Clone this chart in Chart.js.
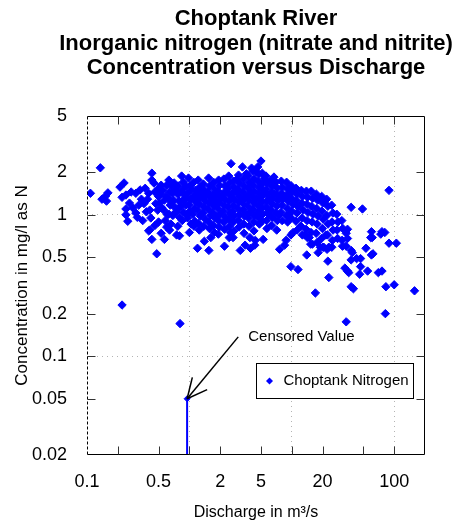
<!DOCTYPE html>
<html>
<head>
<meta charset="utf-8">
<title>Choptank River - Concentration versus Discharge</title>
<script src="https://cdn.jsdelivr.net/npm/chart.js@4.4.0/dist/chart.umd.min.js"></script>
<style>
  body { margin: 0; background: #fff; }
  #wrap { width: 461px; height: 524px; }
</style>
</head>
<body>
<div id="wrap"><canvas id="chart"></canvas></div>
<script>
const titleLines = ['Choptank River', 'Inorganic nitrogen (nitrate and nitrite)', 'Concentration versus Discharge'];
const xTitle = 'Discharge in m³/s';
const yTitle = 'Concentration in mg/l as N';
const seriesName = 'Choptank Nitrogen';
const noteText = 'Censored Value';

const xTicks = [0.1, 0.2, 0.5, 1, 2, 5, 10, 20, 50, 100];
const xTickLabels = ['0.1', '', '0.5', '', '2', '5', '', '20', '', '100'];
const yTicks = [0.02, 0.05, 0.1, 0.2, 0.5, 1, 2, 5];
const yTickLabels = ['0.02', '0.05', '0.1', '0.2', '0.5', '1', '2', '5'];
const xGridAt = [1, 10, 100];
const yGridAt = [0.1, 1];

// [discharge m3/s, concentration mg/l]
const lowFlow = [
  [0.108, 1.42], [0.135, 2.15], [0.14, 1.29], [0.155, 1.25], [0.16, 1.43], [0.152, 1.36],
  [0.21, 1.57], [0.23, 1.68], [0.22, 1.33], [0.24, 1.38], [0.26, 1.21], [0.24, 1.10], [0.24, 1.00], [0.25, 0.90],
  [0.30, 1.42], [0.32, 1.17], [0.34, 1.29], [0.31, 0.96], [0.30, 1.03], [0.35, 0.91],
  [0.37, 1.54], [0.43, 1.97], [0.43, 1.76], [0.45, 1.68], [0.40, 1.42], [0.39, 1.29], [0.41, 1.08], [0.42, 0.95],
  [0.41, 0.78], [0.40, 0.77], [0.43, 0.67], [0.48, 0.53],
  [0.50, 1.54], [0.50, 1.35], [0.51, 1.21], [0.49, 1.08], [0.50, 0.89],
  [0.53, 1.62], [0.55, 1.49], [0.57, 1.27], [0.56, 1.08], [0.58, 0.91], [0.60, 0.82], [0.57, 0.67], [0.60, 1.62],
  [0.63, 1.76], [0.64, 1.45], [0.62, 1.31], [0.65, 1.17], [0.63, 1.01], [0.64, 0.78],
  [0.71, 1.68], [0.68, 1.42], [0.70, 1.27], [0.72, 1.13], [0.69, 0.99], [0.66, 0.86], [0.75, 0.72],
  [0.78, 1.60], [0.77, 1.40], [0.79, 1.25], [0.78, 1.11], [0.80, 0.96], [0.77, 0.83], [0.80, 0.71],
  [0.87, 1.70], [0.89, 1.54], [0.84, 1.88], [0.90, 1.38], [0.86, 1.27], [0.92, 1.17], [0.88, 1.04], [0.85, 0.91],
  [0.27, 1.45], [0.28, 1.12], [0.33, 1.50], [0.36, 1.20], [0.38, 1.05], [0.46, 1.45], [0.47, 1.20],
  [0.52, 1.40], [0.54, 1.12], [0.59, 1.35], [0.61, 1.00], [0.67, 1.60], [0.67, 1.22], [0.73, 1.50],
  [0.74, 1.05], [0.82, 1.45], [0.83, 1.15], [0.93, 1.60], [0.94, 1.30], [0.95, 1.00], [0.46, 0.84], [0.53, 0.74]
];

const midFlow = [
  [0.98, 1.82], [1.02, 1.60], [0.97, 1.42], [1.03, 1.29], [0.99, 1.17], [1.01, 1.06], [0.96, 0.95], [1.04, 0.86], [1.00, 0.75],
  [1.10, 1.70], [1.14, 1.49], [1.09, 1.35], [1.15, 1.23], [1.12, 1.11], [1.08, 1.01], [1.13, 0.90], [1.11, 0.83],
  [1.22, 1.76], [1.26, 1.57], [1.21, 1.42], [1.27, 1.31], [1.24, 1.19], [1.20, 1.08], [1.28, 0.98], [1.23, 0.87], [1.25, 0.78], [1.20, 0.58],
  [1.37, 1.65], [1.41, 1.49], [1.36, 1.35], [1.42, 1.25], [1.39, 1.13], [1.35, 1.03], [1.43, 0.93], [1.38, 0.83], [1.40, 0.65],
  [1.54, 1.82], [1.58, 1.60], [1.53, 1.45], [1.59, 1.33], [1.56, 1.21], [1.52, 1.10], [1.60, 0.99], [1.55, 0.89], [1.57, 0.80], [1.62, 0.69], [1.55, 0.56],
  [1.72, 1.70], [1.76, 1.52], [1.70, 1.38], [1.78, 1.27], [1.74, 1.15], [1.69, 1.04], [1.77, 0.95], [1.73, 0.84], [1.75, 0.75],
  [1.93, 1.76], [1.97, 1.62], [1.91, 1.47], [1.99, 1.33], [1.95, 1.21], [1.90, 1.11], [1.98, 1.01], [1.94, 0.91], [1.96, 0.82], [1.92, 0.73],
  [2.17, 1.79], [2.22, 1.60], [2.15, 1.42], [2.24, 1.29], [2.19, 1.17], [2.14, 1.06], [2.23, 0.96], [2.18, 0.89], [2.21, 0.79], [2.20, 0.60],
  [2.42, 1.88], [2.47, 1.68], [2.40, 1.52], [2.50, 1.38], [2.44, 1.25], [2.39, 1.13], [2.48, 1.03], [2.43, 0.93], [2.46, 0.83], [2.52, 0.75], [2.45, 0.69],
  [2.55, 2.30],
  [2.68, 1.73], [2.74, 1.57], [2.66, 1.42], [2.76, 1.29], [2.70, 1.17], [2.64, 1.06], [2.75, 0.98], [2.69, 0.89], [2.72, 0.77], [2.67, 0.69],
  [3.02, 1.91], [3.08, 1.68], [3.00, 1.52], [3.10, 1.35], [3.04, 1.23], [2.98, 1.11], [3.09, 1.01], [3.03, 0.91], [3.06, 0.82], [3.14, 0.56],
  [3.30, 2.18], [3.38, 1.79], [3.44, 1.60], [3.35, 1.45], [3.46, 1.31], [3.40, 1.19], [3.33, 1.08], [3.45, 0.98], [3.39, 0.86], [3.42, 0.74], [3.50, 0.61],
  [3.76, 1.88], [3.84, 1.70], [3.74, 1.54], [3.86, 1.40], [3.79, 1.27], [3.72, 1.15], [3.85, 1.04], [3.78, 0.95], [3.82, 0.83], [3.90, 0.69], [3.95, 0.58],
  [4.05, 2.14], [4.15, 2.04], [4.30, 1.79], [4.20, 1.62], [4.32, 1.47], [4.22, 1.33], [4.28, 1.21], [4.18, 1.10], [4.30, 0.99], [4.24, 0.89], [4.27, 0.77], [4.40, 0.66], [4.35, 0.61],
  [4.65, 2.18], [4.80, 1.94], [4.70, 1.73], [4.82, 1.57], [4.74, 1.42], [4.85, 1.29], [4.72, 1.17], [4.78, 1.06], [4.70, 0.96], [4.83, 0.86],
  [5.00, 2.40], [5.15, 1.97], [5.10, 1.65], [5.22, 1.49], [5.05, 1.35], [5.18, 1.23], [5.08, 1.11], [5.20, 1.01], [5.12, 0.90], [5.25, 0.67],
  [5.60, 1.88], [5.75, 1.68], [5.65, 1.52], [5.80, 1.38], [5.70, 1.25], [5.62, 1.13], [5.78, 1.03], [5.68, 0.91], [5.72, 0.80],
  [6.30, 1.76], [6.45, 1.60], [6.35, 1.45], [6.50, 1.31], [6.40, 1.19], [6.28, 1.08], [6.48, 0.96], [6.38, 0.84],
  [7.00, 1.70], [7.20, 1.54], [7.10, 1.40], [7.25, 1.27], [7.15, 1.15], [7.05, 1.03], [7.22, 0.91], [7.12, 0.78],
  [7.90, 1.73], [8.10, 1.57], [7.95, 1.42], [8.15, 1.29], [8.00, 1.17], [7.85, 1.04], [8.05, 0.91], [7.60, 0.57], [8.50, 0.61],
  [8.90, 1.70], [9.10, 1.52], [8.95, 1.38], [9.15, 1.25], [9.00, 1.11], [8.85, 0.99], [9.10, 0.89], [8.80, 0.66],
  [1.05, 1.50], [1.17, 1.30], [1.31, 1.45], [1.47, 1.38], [1.65, 1.25], [1.85, 1.40], [2.07, 1.30], [2.30, 1.45],
  [2.58, 1.30], [2.88, 1.45], [3.20, 1.25], [3.60, 1.35], [4.00, 1.45], [4.50, 1.30], [5.40, 1.42], [6.00, 1.30],
  [6.70, 1.40], [7.50, 1.30], [8.40, 1.35], [9.40, 1.30],
  [1.30, 1.00], [1.80, 0.98], [2.60, 1.00], [3.60, 1.00], [4.50, 1.00], [6.00, 1.00], [7.50, 1.00], [9.40, 1.00],
  [2.90, 1.78], [3.60, 1.95], [5.40, 1.80], [4.50, 2.00], [6.70, 1.85]
];

const highFlow = [
  [9.9, 1.60], [10.1, 1.45], [9.95, 1.31], [10.2, 1.19], [10.0, 1.06], [9.85, 0.95], [10.3, 0.75], [9.8, 0.72], [9.8, 0.43], [11.5, 0.41],
  [11.0, 1.54], [11.3, 1.40], [11.1, 1.27], [11.4, 1.15], [11.2, 1.03], [11.0, 0.90], [11.3, 0.78],
  [12.4, 1.49], [12.8, 1.35], [12.5, 1.21], [12.9, 1.08], [12.6, 0.95], [12.3, 0.83], [12.7, 0.72],
  [13.9, 1.47], [14.3, 1.33], [14.0, 1.19], [14.4, 1.04], [14.1, 0.91], [13.8, 0.79], [14.2, 0.69], [14.0, 0.52], [13.5, 0.72], [14.8, 0.69],
  [15.5, 1.47], [16.0, 1.31], [15.6, 1.15], [16.1, 1.01], [15.8, 0.89], [15.4, 0.75], [15.9, 0.62], [15.3, 0.62],
  [17.4, 1.40], [17.9, 1.27], [17.5, 1.11], [18.0, 0.98], [17.7, 0.86], [17.3, 0.74], [17.8, 0.64], [18.1, 0.54],
  [19.6, 1.35], [20.1, 1.21], [19.7, 1.06], [20.3, 0.93], [19.9, 0.80], [19.5, 0.68], [20.2, 0.59], [19.0, 0.59], [20.5, 0.59],
  [21.9, 1.29], [22.5, 1.15], [22.0, 0.99], [22.6, 0.86], [22.3, 0.72], [22.1, 0.57], [22.5, 0.47], [21.5, 0.72], [23.0, 0.59],
  [24.5, 1.17], [25.2, 1.03], [24.7, 0.89], [25.3, 0.78], [24.9, 0.66], [24.6, 0.59],
  [27.5, 1.01], [28.2, 0.89], [27.7, 0.78], [28.0, 0.68],
  [30.8, 0.91], [31.5, 0.80], [31.0, 0.66], [31.3, 0.60]
];

const sparse = [
  [0.22, 0.23], [0.81, 0.17], [23, 0.36], [17, 0.28],
  [38, 1.13], [49, 1.10], [89, 1.49],
  [35, 0.79], [34, 0.74], [35, 0.68], [34, 0.60], [38, 0.56], [39, 0.54],
  [53, 0.58], [60, 0.76], [61, 0.69], [59, 0.69], [76, 0.76], [81, 0.75], [74, 0.73],
  [89, 0.63], [105, 0.63], [60, 0.52], [62, 0.53], [47, 0.49], [43, 0.49], [38, 0.48],
  [47, 0.43], [33, 0.42], [35, 0.40], [36, 0.39], [46, 0.38], [55, 0.40], [70, 0.39], [76, 0.40],
  [38, 0.31], [40, 0.30], [83, 0.31], [100, 0.32], [158, 0.29],
  [34, 0.175], [82, 0.20]
];

const censoredX = [0.95, 0.95];
const censoredY = [0.05, 0.02];

const blue = '#0000ff';
const font = '"Liberation Sans", Arial, Helvetica, sans-serif';

const samples = lowFlow.concat(midFlow, highFlow, sparse).map(p => ({ x: p[0], y: p[1] }));

// title, frame with inward ticks, the censored-value note and the in-plot legend
const framePlugin = {
  id: 'frame',
  afterDatasetsDraw(chart) {
    const { ctx, chartArea: a, scales: { x, y } } = chart;
    const L = Math.round(a.left) + 0.5, R = Math.round(a.right) - 0.5;
    const T = Math.round(a.top) + 0.5, B = Math.round(a.bottom) - 0.5;
    const line = (x1, y1, x2, y2) => { ctx.beginPath(); ctx.moveTo(x1, y1); ctx.lineTo(x2, y2); ctx.stroke(); };
    ctx.save();

    ctx.fillStyle = '#000';
    ctx.font = 'bold 22px ' + font;
    ctx.textAlign = 'center';
    ctx.textBaseline = 'middle';
    titleLines.forEach((t, i) => ctx.fillText(t, (a.left + a.right) / 2, 19 + i * 24.5));

    ctx.lineWidth = 1;
    ctx.strokeStyle = '#000';
    ctx.beginPath();
    ctx.moveTo(L, T); ctx.lineTo(R, T); ctx.lineTo(R, B); ctx.lineTo(L, B);
    ctx.stroke();
    ctx.setLineDash([3, 2]);
    line(L, B, L, T);
    ctx.setLineDash([]);

    ctx.strokeStyle = '#333';
    xTicks.forEach(v => {
      const px = Math.round(x.getPixelForValue(v)) + 0.5;
      if (px <= L + 1 || px >= R - 1) return;
      line(px, B, px, B - 8);
      line(px, T, px, T + 8);
    });
    yTicks.forEach(v => {
      const py = Math.round(y.getPixelForValue(v)) + 0.5;
      if (py <= T + 1 || py >= B - 1) return;
      line(L, py, L + 8, py);
      line(R, py, R - 8, py);
    });

    // arrow to the censored value
    const hx = x.getPixelForValue(censoredX[0]), hy = y.getPixelForValue(censoredY[0]);
    const tx = x.getPixelForValue(3.0), ty = y.getPixelForValue(0.137);
    ctx.strokeStyle = '#000';
    ctx.lineWidth = 1.5;
    line(tx, ty, hx, hy);
    const ang = Math.atan2(ty - hy, tx - hx);
    [-0.45, 0.45].forEach(d => line(hx, hy, hx + 22 * Math.cos(ang + d), hy + 22 * Math.sin(ang + d)));
    ctx.fillStyle = '#000';
    ctx.font = '15px ' + font;
    ctx.textAlign = 'left';
    ctx.fillText(noteText, tx + 10, ty);

    // legend box
    const bl = Math.round(a.right - 169) + 0.5, br = Math.round(a.right - 12) + 0.5;
    const bt = Math.round(a.bottom - 92) + 0.5, bb = Math.round(a.bottom - 57) + 0.5;
    ctx.fillStyle = '#fff';
    ctx.fillRect(bl, bt, br - bl, bb - bt);
    ctx.lineWidth = 1;
    ctx.strokeRect(bl, bt, br - bl, bb - bt);
    ctx.fillStyle = blue;
    Chart.helpers.drawPoint(ctx, { pointStyle: 'rectRot', radius: 3.5, rotation: 0, borderWidth: 0 }, bl + 13, (bt + bb) / 2);
    ctx.fillStyle = '#000';
    ctx.fillText(seriesName, bl + 27, (bt + bb) / 2);
    ctx.restore();
  }
};

new Chart(document.getElementById('chart'), {
  type: 'scatter',
  data: {
    datasets: [
      {
        label: seriesName,
        data: samples,
        pointStyle: 'rectRot',
        pointRadius: 4.2,
        backgroundColor: blue,
        borderColor: blue,
        borderWidth: 1
      },
      {
        label: 'censored',
        data: censoredX.map((v, i) => ({ x: v, y: censoredY[i] })),
        showLine: true,
        borderColor: blue,
        backgroundColor: blue,
        borderWidth: 2,
        pointStyle: 'rectRot',
        pointRadius: [3, 0],
        pointBorderWidth: 1,
        clip: false
      }
    ]
  },
  options: {
    responsive: true,
    maintainAspectRatio: false,
    animation: false,
    events: [],
    layout: { padding: { left: 0, right: 36, top: 116, bottom: 0 } },
    plugins: {
      legend: { display: false },
      tooltip: { enabled: false },
      title: { display: false }
    },
    scales: {
      x: {
        type: 'logarithmic',
        min: 0.1,
        max: 200,
        afterBuildTicks: s => { s.ticks = xTicks.map(v => ({ value: v })); },
        afterFit: s => { s.height = 69; },
        ticks: {
          autoSkip: false,
          maxRotation: 0,
          padding: 16,
          color: '#000',
          font: { family: font, size: 18 },
          callback: (v, i) => xTickLabels[i]
        },
        grid: {
          drawTicks: false,
          color: c => (c.tick && xGridAt.includes(c.tick.value)) ? '#b4b4b4' : 'rgba(0,0,0,0)'
        },
        border: { display: false, dash: [1, 4] },
        title: {
          display: true,
          text: xTitle,
          color: '#000',
          font: { family: font, size: 16 },
          padding: { top: 0, bottom: 2 }
        }
      },
      y: {
        type: 'logarithmic',
        min: 0.02,
        max: 5,
        afterBuildTicks: s => { s.ticks = yTicks.map(v => ({ value: v })); },
        afterFit: s => { s.width = 87; },
        ticks: {
          autoSkip: false,
          padding: 20,
          color: '#000',
          font: { family: font, size: 18 },
          callback: (v, i) => yTickLabels[i]
        },
        grid: {
          drawTicks: false,
          color: c => (c.tick && yGridAt.includes(c.tick.value)) ? '#b4b4b4' : 'rgba(0,0,0,0)'
        },
        border: { display: false, dash: [1, 4] },
        title: {
          display: true,
          text: yTitle,
          color: '#000',
          font: { family: font, size: 17 },
          padding: { top: 12, bottom: 0 }
        }
      }
    }
  },
  plugins: [framePlugin]
});
</script>
</body>
</html>
